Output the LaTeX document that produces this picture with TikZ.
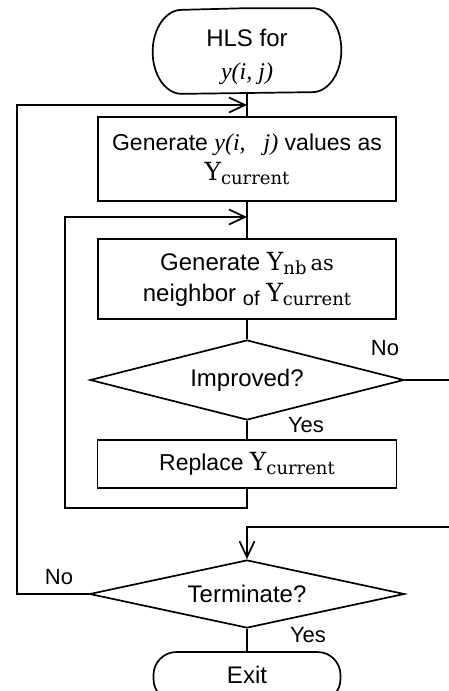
\documentclass[tikz,border=0pt]{standalone}
\usepackage{fontspec}
\setmainfont{Liberation Sans}
\newfontfamily\dser{DejaVu Serif}
\newfontfamily\lser{Liberation Serif}
\usetikzlibrary{shapes.geometric,arrows.meta}
\newcommand{\Ysub}[1]{{\dser\fontsize{25}{25}\selectfont Y\raisebox{-4pt}{\fontsize{18}{18}\selectfont #1}}}
\begin{document}
\begin{tikzpicture}[x=1pt,y=-1pt, line width=1.7pt,
 box/.style={draw, rectangle, inner sep=0pt, align=center},
 term/.style={draw, rectangle, rounded corners=#1, inner sep=0pt, align=center},
 dec/.style={draw, diamond, inner sep=0pt, align=center, font=\fontsize{24}{24}\selectfont},
 lbl/.style={font=\fontsize{22}{22}\selectfont, inner sep=0pt},
 txt/.style={inner sep=0pt, align=center},
 arr/.style={-{Straight Barb[length=16pt,width=15pt,line width=1.7pt]}}]
\useasboundingbox (0,0) rectangle (448,691);

\node[rectangle, inner sep=0pt, minimum width=187pt, minimum height=84pt] (start) at (247,51) {};
\draw[line join=round] (start.north) -- ([xshift=-29pt]start.north east)
  arc[start angle=90, end angle=-90, x radius=29pt, y radius=42pt]
  -- ([xshift=29pt]start.south west)
  arc[start angle=270, end angle=90, x radius=29pt, y radius=42pt] -- cycle;
\node[txt, font=\fontsize{24}{33}\selectfont] (starttxt) at (247,57) {HLS for\\{\lser\itshape y(i, j)}};
\node[box, minimum width=298pt, minimum height=84pt, font=\fontsize{23}{30}\selectfont] (b1) at (247,159) {Generate {\lser\itshape\fontsize{24}{24}\selectfont y(i,\ \ \ j)} values as\\\Ysub{current}};
\node[box, minimum width=298pt, minimum height=80pt, font=\fontsize{24}{31}\selectfont] (b2) at (247,279) {Generate \Ysub{nb}\,{\dser\fontsize{21}{21}\selectfont as}\\neighbor \raisebox{-4pt}{\fontsize{20}{20}\selectfont of} \Ysub{current}};
\node[dec, aspect=3.925, minimum width=314pt, minimum height=80pt] (imp) at (247,380) {Improved?};
\node[box, minimum width=299pt, minimum height=48pt, font=\fontsize{23}{23}\selectfont] (b3) at (247,464) {Replace \Ysub{current}};
\node[dec, aspect=4.63, minimum width=315pt, minimum height=68pt] (ter) at (247,594) {Terminate?};
\node[term=23pt, minimum width=187pt, minimum height=50pt, font=\fontsize{24}{24}\selectfont] (exit) at (247,677) {\raisebox{4pt}{Exit}};

\node[lbl] (no1) at (385,348) {No};
\node[lbl] (yes1) at (306,425) {Yes};
\node[lbl] (no2) at (59,577) {No};
\node[lbl] (yes2) at (308,635) {Yes};

\coordinate (j1) at (247,105);
\coordinate (j2) at (247,217);
\coordinate (l1) at (65,508);
\coordinate (l2) at (17,594);
\coordinate (r1) at (455,380);
\coordinate (r2) at (455,527);

\draw (start) -- (b1);
\draw (b1) -- (b2);
\draw (b2) -- (imp);
\draw (imp) -- (b3);
\draw (ter) -- (exit);
\draw[arr] (b3.south) -- (b3.south |- l1) -- (l1) -- (l1 |- j2) -- (j2);
\draw[arr] (imp.east) -- (r1) -- (r2) -- (ter.north |- r2) -- (ter.north);
\draw[arr] (ter.west) -- (l2) -- (l2 |- j1) -- (j1);
\end{tikzpicture}
\end{document}
